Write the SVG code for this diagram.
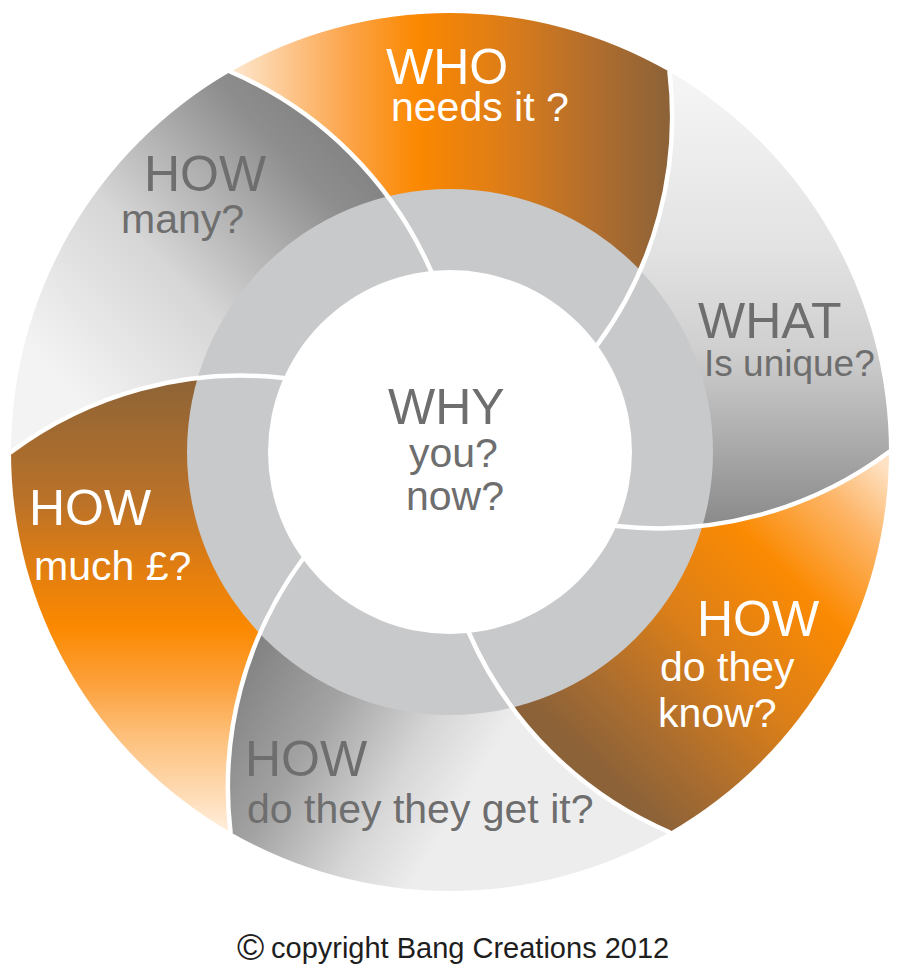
<svg xmlns="http://www.w3.org/2000/svg" width="903" height="968" viewBox="0 0 903 968">
<style>
text{font-family:"Liberation Sans",Arial,sans-serif}
.w{fill:#ffffff}.g{fill:#6e6e6e}
.big{font-size:50px}.sm{font-size:41px}
.sep{fill:none;stroke:#ffffff;stroke-width:4.5;stroke-linecap:round}
</style>
<defs>
<linearGradient id="gWho" gradientUnits="userSpaceOnUse" x1="235" y1="0" x2="670" y2="0">
<stop offset="0" stop-color="#fde5ca"/><stop offset="0.26" stop-color="#fca449"/><stop offset="0.42" stop-color="#fb8800"/><stop offset="0.6" stop-color="#e07e16"/><stop offset="0.83" stop-color="#b06d2e"/><stop offset="1" stop-color="#8c6238"/>
</linearGradient>
<linearGradient id="gWhat" gradientUnits="userSpaceOnUse" x1="0" y1="90" x2="0" y2="525">
<stop offset="0" stop-color="#f4f4f4"/><stop offset="0.37" stop-color="#e2e2e2"/><stop offset="0.6" stop-color="#cfcfcf"/><stop offset="0.8" stop-color="#adadad"/><stop offset="1" stop-color="#8a8a8a"/>
</linearGradient>
<linearGradient id="gKnow" gradientUnits="userSpaceOnUse" x1="890" y1="470" x2="600" y2="770">
<stop offset="0" stop-color="#fee2c4"/><stop offset="0.15" stop-color="#fdb465"/><stop offset="0.35" stop-color="#fb8a02"/><stop offset="0.6" stop-color="#dc7f18"/><stop offset="0.85" stop-color="#a86c30"/><stop offset="1" stop-color="#8c6238"/>
</linearGradient>
<linearGradient id="gGet" gradientUnits="userSpaceOnUse" x1="240" y1="650" x2="470" y2="790">
<stop offset="0" stop-color="#7f7f7f"/><stop offset="0.4" stop-color="#a3a3a3"/><stop offset="0.75" stop-color="#d6d6d6"/><stop offset="1" stop-color="#ededed"/>
</linearGradient>
<linearGradient id="gMuch" gradientUnits="userSpaceOnUse" x1="0" y1="380" x2="0" y2="830">
<stop offset="0" stop-color="#8e6437"/><stop offset="0.27" stop-color="#bb7228"/><stop offset="0.42" stop-color="#e27e10"/><stop offset="0.55" stop-color="#fb8900"/><stop offset="0.68" stop-color="#fca23e"/><stop offset="0.78" stop-color="#fdbd75"/><stop offset="0.9" stop-color="#fed7ab"/><stop offset="1" stop-color="#ffeddb"/>
</linearGradient>
<linearGradient id="gMany" gradientUnits="userSpaceOnUse" x1="80" y1="400" x2="340" y2="150">
<stop offset="0" stop-color="#f3f3f3"/><stop offset="0.43" stop-color="#d6d6d6"/><stop offset="0.68" stop-color="#afafaf"/><stop offset="0.88" stop-color="#8e8e8e"/><stop offset="1" stop-color="#858585"/>
</linearGradient>
</defs>
<rect width="903" height="968" fill="#ffffff"/>

<g id="petal-who">
<path fill="url(#gWho)" d="M230.5,71.8 A439,439 0 0 1 669.5,71.8 A385,385 0 0 1 597.2,345 A182,182 0 0 0 431,271 A385,385 0 0 0 230.5,71.8 Z"/>
</g>
<g id="petal-what">
<path fill="url(#gWhat)" d="M669.5,71.8 A439,439 0 0 1 889,452 A385,385 0 0 1 616.3,526 A182,182 0 0 0 597.2,345 A385,385 0 0 0 669.5,71.8 Z"/>
</g>
<g id="petal-know">
<path fill="url(#gKnow)" d="M889,452 A439,439 0 0 1 669.5,832.2 A385,385 0 0 1 469,633 A182,182 0 0 0 616.3,526 A385,385 0 0 0 889,452 Z"/>
</g>
<g id="petal-get">
<path fill="url(#gGet)" d="M669.5,832.2 A439,439 0 0 1 230.5,832.2 A385,385 0 0 1 302.8,559 A182,182 0 0 0 469,633 A385,385 0 0 0 669.5,832.2 Z"/>
</g>
<g id="petal-much">
<path fill="url(#gMuch)" d="M230.5,832.2 A439,439 0 0 1 11,452 A385,385 0 0 1 283.7,378 A182,182 0 0 0 302.8,559 A385,385 0 0 0 230.5,832.2 Z"/>
</g>
<g id="petal-many">
<path fill="url(#gMany)" d="M11,452 A439,439 0 0 1 230.5,71.8 A385,385 0 0 1 431,271 A182,182 0 0 0 283.7,378 A385,385 0 0 0 11,452 Z"/>
</g>

<g id="ring">
<circle cx="450" cy="452" r="263" fill="#c8c9ca"/>
</g>
<g id="center">
<circle cx="450" cy="452" r="182" fill="#ffffff"/>
</g>

<g id="separators">
<path class="sep" d="M431,271 A385,385 0 0 0 230.5,71.8"/>
<path class="sep" d="M597.2,345 A385,385 0 0 0 669.5,71.8"/>
<path class="sep" d="M616.3,526 A385,385 0 0 0 889,452"/>
<path class="sep" d="M469,633 A385,385 0 0 0 669.5,832.2"/>
<path class="sep" d="M302.8,559 A385,385 0 0 0 230.5,832.2"/>
<path class="sep" d="M283.7,378 A385,385 0 0 0 11,452"/>
</g>

<g id="labels">
<text class="w big" x="386" y="84">WHO</text>
<text class="w sm" x="391" y="121">needs it ?</text>
<text class="g big" x="144" y="191">HOW</text>
<text class="g sm" x="121" y="233">many?</text>
<text class="g big" x="698" y="338">WHAT</text>
<text class="g" x="704" y="376" font-size="37">Is unique?</text>
<text class="g big" x="388" y="424">WHY</text>
<text class="g sm" x="409" y="467">you?</text>
<text class="g sm" x="406" y="510">now?</text>
<text class="w big" x="697" y="636">HOW</text>
<text class="w sm" x="660" y="681">do they</text>
<text class="w sm" x="658" y="727">know?</text>
<text class="w big" x="29" y="525">HOW</text>
<text class="w sm" x="34" y="580">much £?</text>
<text class="g big" x="245" y="776">HOW</text>
<text class="g sm" x="247" y="823">do they they get it?</text>
</g>

<g id="copyright">
<text x="237" y="960" font-size="37" fill="#1e1e1e">©</text>
<text x="271" y="958" font-size="29" fill="#1e1e1e">copyright Bang Creations 2012</text>
</g>
</svg>
